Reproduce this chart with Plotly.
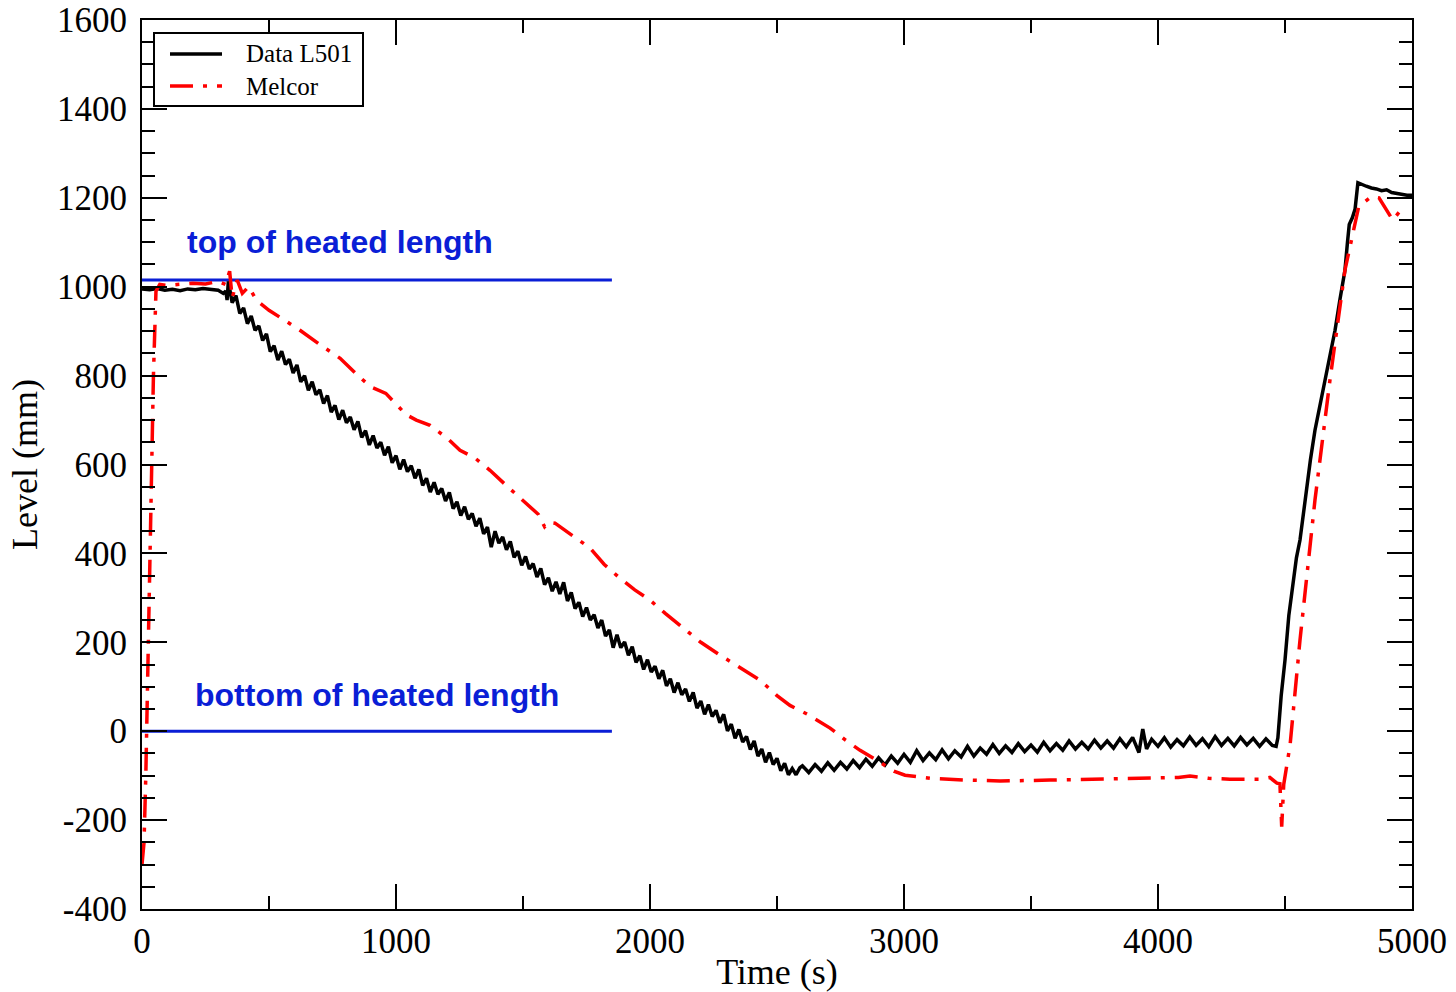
import plotly.graph_objects as go

# LOFT L5-01 style core level comparison: measured level vs MELCOR
black_t = [0, 30, 60, 90, 120, 150, 180, 210, 240, 270, 300, 320, 330, 335,
           340, 355, 370, 385, 400, 415, 430, 445, 460, 475, 490, 505, 520, 535, 550,
           565, 580, 595, 610, 625, 640, 655, 670, 685, 700, 715, 730, 745, 760, 775,
           790, 805, 820, 835, 850, 865, 880, 895, 910, 925, 940, 955, 970, 985, 1000,
           1015, 1030, 1045, 1060, 1075, 1090, 1105, 1120, 1135, 1150, 1165, 1180, 1195,
           1210, 1225, 1240, 1255, 1270, 1285, 1300, 1315, 1330, 1345, 1360, 1375, 1390,
           1405, 1420, 1435, 1450, 1465, 1480, 1495, 1510, 1525, 1540, 1555, 1570, 1585,
           1600, 1615, 1630, 1645, 1660, 1675, 1690, 1705, 1720, 1735, 1750, 1765, 1780,
           1795, 1810, 1825, 1840, 1855, 1870, 1885, 1900, 1915, 1930, 1945, 1960, 1975,
           1990, 2005, 2020, 2035, 2050, 2065, 2080, 2095, 2110, 2125, 2140, 2155, 2170,
           2185, 2200, 2215, 2230, 2245, 2260, 2275, 2290, 2305, 2320, 2335, 2350, 2365,
           2380, 2395, 2410, 2425, 2440, 2455, 2470, 2485, 2500, 2515, 2530, 2545, 2560,
           2575, 2590,
           2600, 2625, 2650, 2675, 2700, 2725, 2750, 2775, 2800, 2825, 2850, 2875, 2900,
           2925, 2950, 2975, 3000, 3025, 3050, 3075, 3100, 3125, 3150, 3175, 3200, 3225,
           3250, 3275, 3300, 3325, 3350, 3375, 3400, 3425, 3450, 3475, 3500, 3525, 3550,
           3575, 3600, 3625, 3650, 3675, 3700, 3725, 3750, 3775, 3800, 3825, 3850, 3875,
           3900, 3925, 3940, 3955, 3975, 4000, 4025, 4050, 4075, 4100, 4125, 4150, 4175,
           4200, 4225, 4250, 4275, 4300, 4325, 4350, 4375, 4400, 4425, 4450, 4465,
           4472, 4485, 4500, 4515, 4528, 4545, 4559, 4579, 4600, 4618, 4640, 4657, 4680,
           4697, 4716, 4736, 4746, 4753, 4765, 4776, 4787, 4800, 4820, 4840, 4860, 4880,
           4900, 4920, 4940, 4960, 4980, 5000]
black_level = [995, 993, 996, 992, 994, 991, 995, 993, 996, 994, 992, 985, 990, 970,
               1012, 964, 980, 940, 952, 917, 934, 902, 912, 879, 894, 854, 867, 835, 855,
               825, 837, 806, 824, 786, 800, 767, 786, 757, 768, 737, 755, 718, 733, 701,
               722, 694, 707, 678, 697, 661, 676, 644, 665, 637, 650, 621, 640, 604, 620,
               589, 611, 584, 597, 569, 589, 553, 569, 538, 560, 533, 546, 518,
               537, 501, 516, 485, 505, 477, 490, 461, 479, 444, 459, 414, 450,
               423, 437, 408, 427, 391, 405, 373, 393, 365, 377, 347, 366, 330,
               345, 315, 336, 309, 335, 293, 312, 276, 290, 258, 278, 250, 262,
               232, 250, 214, 228, 188, 217, 188, 201, 171, 190, 155, 170, 139,
               161, 133, 146, 118, 137, 102, 118, 87, 109, 82, 95, 67, 87,
               52, 68, 38, 60, 33, 47, 19, 38, 1, 16, -16, 4, -24,
               -12, -41, -22, -56, -40, -70, -48, -75, -61, -89, -72, -98, -84,
               -98, -82,
               -78, -93, -75, -90, -71, -88, -70, -85, -66, -82, -63, -79, -60,
               -76, -56, -72, -52, -70, -44, -66, -49, -64, -42, -62, -44, -58,
               -34, -56, -38, -52, -30, -50, -33, -48, -28, -46, -31, -47, -25,
               -44, -28, -43, -22, -40, -25, -40, -20, -38, -22, -38, -17, -35,
               -14, -48, 5, -40, -18, -34, -15, -36, -19, -33, -13, -32, -17,
               -35, -12, -32, -16, -33, -14, -31, -16, -34, -17, -32, -34,
               -15, 80, 160, 260, 317, 390, 430, 520, 610, 677, 740, 790, 850,
               902, 970, 1037, 1100, 1140, 1155, 1175, 1234, 1230, 1226, 1222, 1220, 1216,
               1218, 1212, 1210, 1207, 1206, 1206]

melcor_t = [0, 8, 15, 25, 35, 45, 55, 70, 100, 150, 200, 250, 300, 330, 345, 355,
            375, 395, 420, 450, 500, 560, 622, 700, 780, 850, 900, 960, 1000, 1016,
            1040, 1080, 1134, 1200, 1252, 1310, 1370, 1430, 1488, 1560, 1585, 1600,
            1626, 1700, 1764, 1820, 1882, 1940, 2000, 2060, 2118, 2200, 2276, 2350,
            2433, 2500, 2551, 2620, 2709, 2770, 2827, 2906, 2960, 3004, 3102, 3250,
            3378, 3575, 3772, 3969, 4080, 4126, 4200, 4283, 4402, 4440, 4468, 4480,
            4487, 4495, 4510, 4520, 4559, 4618, 4677, 4736, 4790, 4841, 4870, 4924,
            4950, 4975]
melcor_level = [-300, -250, -100, 200, 500, 800, 990, 1005, 1003, 1006, 1008, 1006,
                1012, 1005, 1035, 975, 1015, 985, 1000, 970, 947, 925, 902, 870, 839,
                800, 775, 760, 735, 725, 712, 700, 688, 660, 632, 615, 587, 555, 526,
                488, 460, 470, 468, 438, 412, 375, 344, 318, 295, 265, 238, 200, 171,
                145, 115, 80, 58, 38, 7, -20, -43, -70, -90, -99, -106, -110, -112,
                -110, -108, -106, -104, -101, -106, -108, -108, -104, -117, -118, -215,
                -120, -60, -31, 205, 520, 790, 1037, 1180, 1203, 1200, 1150, 1168, 1172]

heated_top = 1015
heated_bottom = 0
heated_span = [0, 1850]

x_ticks = [0, 1000, 2000, 3000, 4000, 5000]
x_ticklabels = ['0', '1000', '2000', '3000', '4000', '5000']
y_ticks = [-400, -200, 0, 200, 400, 600, 800, 1000, 1200, 1400, 1600]
y_ticklabels = ['-400', '-200', '0', '200', '400', '600', '800', '1000', '1200', '1400', '1600']

SERIF = 'Liberation Serif, Times New Roman, serif'
SANS = 'Liberation Sans, Arial, sans-serif'
BLUE = '#0a1ed6'
RED = '#ff0000'
MELCOR_DASH = '23px,10px,4px,10px'

W, H = 1456, 992
M = dict(l=142, r=44, t=20, b=83)
PW = W - M['l'] - M['r']
PH = H - M['t'] - M['b']


def px_x(px):
    # page pixel -> paper fraction
    return (px - M['l']) / PW


def px_y(py):
    return (H - M['b'] - py) / PH


fig = go.Figure()
for lvl in (heated_top, heated_bottom):
    fig.add_trace(go.Scatter(
        x=heated_span, y=[lvl, lvl], mode='lines',
        line=dict(color=BLUE, width=3), showlegend=False, hoverinfo='skip',
    ))
fig.add_trace(go.Scatter(
    x=black_t, y=black_level, mode='lines', name='Data L501',
    line=dict(color='black', width=3.5), showlegend=False,
))
fig.add_trace(go.Scatter(
    x=melcor_t, y=melcor_level, mode='lines', name='Melcor',
    line=dict(color=RED, width=3.5, dash=MELCOR_DASH), showlegend=False,
))

fig.add_annotation(x=169, y=1100, text='top of heated length', showarrow=False,
                   xanchor='left', yanchor='middle',
                   font=dict(family=SANS, size=32, color=BLUE, weight='bold'))
fig.add_annotation(x=201, y=81, text='bottom of heated length', showarrow=False,
                   xanchor='left', yanchor='middle',
                   font=dict(family=SANS, size=32, color=BLUE, weight='bold'))

# legend box drawn by hand to get the long line samples of the original
fig.add_shape(type='rect', xref='paper', yref='paper',
              x0=px_x(154), x1=px_x(363), y0=px_y(106), y1=px_y(33),
              line=dict(color='black', width=2), fillcolor='white', layer='above')
for py, name, color, dash in ((54, 'Data L501', 'black', 'solid'),
                              (86, 'Melcor', RED, MELCOR_DASH)):
    fig.add_shape(type='line', xref='paper', yref='paper',
                  x0=px_x(170), x1=px_x(222), y0=px_y(py), y1=px_y(py),
                  line=dict(color=color, width=3.5, dash=dash), layer='above')
    fig.add_annotation(xref='paper', yref='paper', x=px_x(244), y=px_y(py),
                       text=name, showarrow=False, xanchor='left', yanchor='middle',
                       font=dict(family=SERIF, size=25, color='black'))

axis_common = dict(
    showgrid=False, zeroline=False, showline=True, linecolor='black', linewidth=2,
    mirror='ticks', ticks='inside', ticklen=25, tickwidth=2, tickcolor='black',
    tickfont=dict(family=SERIF, size=35, color='black'), automargin=False,
    ticklabeloverflow='allow',
)
fig.update_xaxes(
    range=[0, 5000], tickmode='array', tickvals=x_ticks, ticktext=x_ticklabels,
    minor=dict(tickmode='linear', tick0=0, dtick=500, ticks='inside', ticklen=13,
               tickwidth=2, tickcolor='black'),
    title=dict(text='Time (s)', font=dict(family=SERIF, size=36, color='black'), standoff=2),
    **axis_common,
)
fig.update_yaxes(
    range=[-400, 1600], tickmode='array', tickvals=y_ticks, ticktext=y_ticklabels,
    minor=dict(tickmode='linear', tick0=0, dtick=50, ticks='inside', ticklen=13,
               tickwidth=2, tickcolor='black'),
    title=dict(text='Level (mm)', font=dict(family=SERIF, size=36, color='black'), standoff=8),
    ticklabelstandoff=6,
    **axis_common,
)
fig.update_layout(
    width=W, height=H, margin=M,
    plot_bgcolor='white', paper_bgcolor='white',
    showlegend=False,
)

# drop the browser's default 8px body margin so the figure fills the window
fig.write_html('out.html', config={'displayModeBar': False},
               post_script="document.body.style.margin = '0';")
